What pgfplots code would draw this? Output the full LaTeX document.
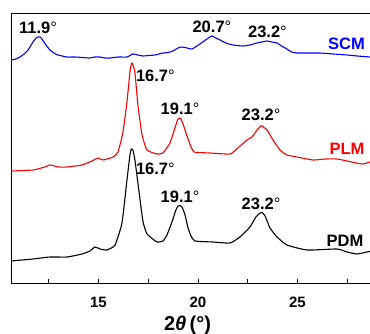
\documentclass[border=0pt]{standalone}
\usepackage{fontspec}
\setmainfont{Liberation Sans}
\usepackage{pgfplots}
\pgfplotsset{compat=1.18}
\newcommand{\dg}{{\mdseries °}}
\tikzset{lbl/.style={font=\bfseries\fontsize{16.5}{17}\selectfont, anchor=base, inner sep=0pt}}
\begin{document}
\begin{tikzpicture}
\begin{axis}[
  scale only axis, width=361pt, height=270pt,
  xmin=10.603, xmax=28.744, ymin=50, ymax=320,
  xtick={15,20,25}, xticklabels={\textbf{15},\textbf{20},\textbf{25}},
  minor xtick={12.5,17.5,22.5,27.5},
  ytick=\empty,
  xtick pos=bottom,
  tick align=inside,
  major tick length=4pt, minor tick length=4pt,
  every tick/.style={black, line width=0.8pt},
  axis line style={line width=1pt},
  xticklabel style={font=\bfseries\fontsize{15}{16}\selectfont, anchor=base, yshift=-24pt},
  xlabel={\bfseries 2\textit{θ}\,(°)},
  xlabel style={font=\fontsize{20}{21}\selectfont, at={(axis description cs:0.489,0)}, anchor=base, yshift=-47pt},
  clip=true,
  every axis plot/.append style={line width=1.1pt, mark=none},
]
% SCM
\addplot[blue, smooth, tension=0.3] coordinates {
(10.60,273) (10.85,274) (11.06,276) (11.26,279) (11.46,283) (11.71,291) (11.86,295) (11.96,296) (12.06,296) (12.16,294) (12.36,288) (12.56,283) (12.76,280) (12.96,278) (13.42,276) (13.8,276) (14.2,275.5) (14.57,275) (14.8,276) (15.08,276) (15.3,275) (15.58,275) (16.0,276) (16.43,276) (16.73,279) (16.98,278) (17.24,277) (17.5,277.5) (17.84,278) (18.24,280) (18.5,280.5) (18.74,282) (19.00,285) (19.20,286) (19.45,285) (19.70,284) (20.10,289) (20.45,294) (20.70,297) (20.90,295) (21.11,293) (21.4,290) (21.76,288) (22.26,287) (22.61,288) (22.96,290) (23.2,291) (23.47,292) (23.70,291) (23.97,290) (24.20,287) (24.47,284) (24.70,281) (24.97,280) (25.5,280) (26.13,280) (26.8,279) (27.49,278) (28.0,277) (28.64,276) (28.74,276)};
% PLM
\addplot[red, smooth, tension=0.3] coordinates {
(10.60,162) (11.71,163) (12.3,166) (12.56,168) (13.0,166) (13.42,166) (14.17,168) (14.67,172) (14.97,175) (15.23,173) (15.73,176) (15.98,181) (16.23,201) (16.43,231) (16.58,261) (16.63,267) (16.68,270) (16.73,268) (16.83,261) (16.98,228) (17.19,198) (17.44,183) (17.94,179) (18.24,180) (18.59,190) (18.84,205) (18.97,213) (19.05,215) (19.15,214) (19.30,206) (19.45,197) (19.65,186) (19.80,181) (20.0,180.5) (20.60,180) (21.61,179) (22.0,185) (22.46,193) (22.71,196) (22.97,203) (23.15,207) (23.22,207) (23.35,205) (23.47,203) (23.77,193) (24.12,183) (24.47,178) (24.97,176) (25.78,173) (26.4,174) (26.98,174) (27.49,172) (28.24,169) (28.64,171) (28.74,171)};
% PDM
\addplot[black, smooth, tension=0.3] coordinates {
(10.60,72) (11.71,74) (12.56,76) (13.42,76) (14.17,79) (14.57,82) (14.82,86) (15.08,84) (15.43,83) (15.83,88) (16.18,110) (16.43,153) (16.58,178) (16.63,183) (16.68,184) (16.73,183) (16.83,173) (17.09,133) (17.24,111) (17.44,99) (17.94,91) (18.24,92) (18.44,98) (18.69,111) (18.89,123) (19.00,127) (19.10,127.5) (19.20,126) (19.35,118) (19.50,105) (19.65,97) (19.85,92) (20.75,91) (21.61,90) (22.11,96) (22.61,106) (22.91,116) (23.12,120) (23.22,120.5) (23.37,117) (23.62,105) (23.97,96) (24.47,88) (25.48,83) (26.98,84) (27.49,81) (27.99,79) (28.49,81) (28.74,82)};
% labels
\node[lbl] at (axis cs:11.96,300) {11.9\dg};
\node[lbl] at (axis cs:20.70,300.7) {20.7\dg};
\node[lbl] at (axis cs:23.49,296) {23.2\dg};
\node[lbl, blue] at (axis cs:27.46,283.7) {SCM};
\node[lbl] at (axis cs:17.86,252) {16.7\dg};
\node[lbl] at (axis cs:19.10,219) {19.1\dg};
\node[lbl] at (axis cs:23.17,212.3) {23.2\dg};
\node[lbl, red] at (axis cs:27.49,179) {PLM};
\node[lbl] at (axis cs:17.86,159) {16.7\dg};
\node[lbl] at (axis cs:19.10,130.7) {19.1\dg};
\node[lbl] at (axis cs:23.17,124) {23.2\dg};
\node[lbl] at (axis cs:27.39,87) {PDM};
\end{axis}
\pgfresetboundingbox
\path ([xshift=-11pt,yshift=-50pt]current axis.south west) rectangle ([xshift=-2pt,yshift=13pt]current axis.north east);
\end{tikzpicture}
\end{document}
